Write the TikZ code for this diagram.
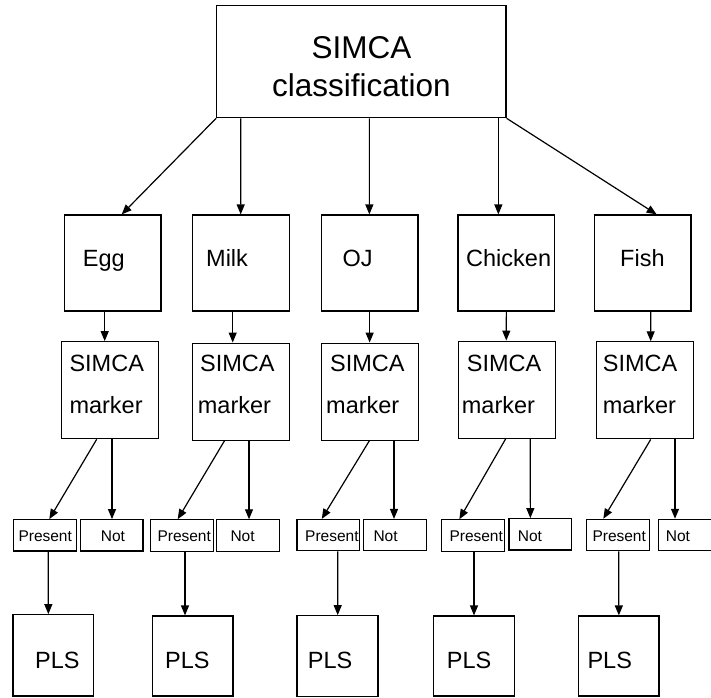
\documentclass[tikz,border=0pt]{standalone}
\usepackage{fontspec}
\setmainfont{Liberation Sans}
\usetikzlibrary{arrows.meta,calc}
\tikzset{
  bx/.style={draw, line width=1.2pt, inner sep=0pt, rectangle},
  topbox/.style={bx, minimum width=289.3pt, minimum height=112pt},
  foodbox/.style={bx, minimum width=96.8pt, minimum height=96pt},
  mkbox/.style={bx, minimum width=97pt, minimum height=97pt},
  smallbox/.style={bx, minimum width=62.6pt, minimum height=31.3pt},
  plsbox/.style={bx, minimum width=80.5pt, minimum height=80.5pt},
  arr/.style={line width=1.2pt, -{Triangle[length=10pt,width=8pt]}},
  big/.style={inner sep=0pt, font=\fontsize{31.5}{36}\selectfont},
  mid/.style={inner sep=0pt, anchor=base west, font=\fontsize{23.5}{28}\selectfont},
  sml/.style={inner sep=0pt, anchor=base west, font=\fontsize{15.5}{18}\selectfont},
}
\begin{document}
\begin{tikzpicture}[x=1pt,y=-1pt]
\useasboundingbox[fill=white] (0,0) rectangle (711,697);
% top
\node[topbox] (top) at (361.35,61.7) {};
\node[big, anchor=base] (tt1) at (361.5,58.3) {SIMCA};
\node[big, anchor=base] (tt2) at (361.5,96.7) {classification};
% food boxes
\node[foodbox] (e1) at (112.5,263) {};
\node[foodbox] (e2) at (241,263) {};
\node[foodbox] (e3) at (369.65,263) {};
\node[foodbox] (e4) at (506.35,263) {};
\node[foodbox] (e5) at (642.65,263) {};
\node[mid] (te1) at (82.7,266.7) {Egg};
\node[mid] (te2) at (206,266.7) {Milk};
\node[mid] (te3) at (342.3,266.7) {OJ};
\node[mid] (te4) at (466,266.7) {Chicken};
\node[mid] (te5) at (620,266.7) {Fish};
% marker boxes
\node[mkbox] (m1) at (110.2,390.2) {};
\node[mkbox] (m2) at (241,391.65) {};
\node[mkbox] (m3) at (369.65,391.65) {};
\node[mkbox, minimum width=97.4pt] (m4) at (507,389.65) {};
\node[mkbox] (m5) at (645,390.35) {};
\node[mid] (ta1) at (69.3,371.7) {SIMCA};
\node[mid] (tb1) at (69.3,413.3) {marker};
\node[mid] (ta2) at (200,371.7) {SIMCA};
\node[mid] (tb2) at (197.7,413.3) {marker};
\node[mid] (ta3) at (330,371.7) {SIMCA};
\node[mid] (tb3) at (326,413.3) {marker};
\node[mid] (ta4) at (466.7,371.7) {SIMCA};
\node[mid] (tb4) at (461.7,413.3) {marker};
\node[mid] (ta5) at (602.7,371.7) {SIMCA};
\node[mid] (tb5) at (602.7,413.3) {marker};
% present / not
\node[smallbox] (p1) at (45,535.35) {};
\node[smallbox] (p2) at (182,535.5) {};
\node[smallbox] (p3) at (328.35,535.15) {};
\node[smallbox] (p4) at (473.15,535.5) {};
\node[smallbox] (p5) at (618,535) {};
\node[smallbox] (n1) at (111.65,535.35) {};
\node[smallbox] (n2) at (248,535.5) {};
\node[smallbox] (n3) at (395,535.15) {};
\node[smallbox] (n4) at (540.35,534.35) {};
\node[smallbox] (n5) at (690,535) {};
\node[sml] (tp1) at (18.3,541.7) {Present};
\node[sml] (tp2) at (157.3,541.7) {Present};
\node[sml] (tp3) at (305,541.7) {Present};
\node[sml] (tp4) at (449.3,541.7) {Present};
\node[sml] (tp5) at (592.3,541.7) {Present};
\node[sml] (tn1) at (100.7,541.7) {Not};
\node[sml] (tn2) at (230.3,541.7) {Not};
\node[sml] (tn3) at (373.3,541.7) {Not};
\node[sml] (tn4) at (517.7,541.2) {Not};
\node[sml] (tn5) at (665.7,541.7) {Not};
% PLS
\node[plsbox, minimum width=80.7pt, minimum height=81.3pt] (L1) at (53.35,655.35) {};
\node[plsbox, minimum width=80.3pt, minimum height=80pt] (L2) at (192.85,656) {};
\node[plsbox, minimum width=81pt, minimum height=81pt] (L3) at (337.5,656.2) {};
\node[plsbox, minimum width=80.6pt, minimum height=80pt] (L4) at (474,656) {};
\node[plsbox, minimum width=80.3pt, minimum height=80pt] (L5) at (618.85,656) {};
\node[mid] (tl1) at (35,668.3) {PLS};
\node[mid] (tl2) at (165,668.3) {PLS};
\node[mid] (tl3) at (307.7,668.3) {PLS};
\node[mid] (tl4) at (446.7,668.3) {PLS};
\node[mid] (tl5) at (587.3,668.3) {PLS};
% arrows top -> food
\draw[arr] (top.south west) -- ([xshift=9.2pt]e1.north);
\draw[arr] ([xshift=-120.6pt]top.south) -- ([xshift=-0.3pt]e2.north);
\draw[arr] ([xshift=8pt]top.south) -- ([xshift=-0.3pt]e3.north);
\draw[arr] ([xshift=137pt]top.south) -- ([xshift=-8pt]e4.north);
\draw[arr] (top.south east) -- ([xshift=14pt]e5.north);
% food -> marker
\draw[arr] ([xshift=-7.8pt]e1.south) -- ([xshift=-5.5pt]m1.north);
\draw[arr] ([xshift=-8.3pt]e2.south) -- ([xshift=-8.3pt]m2.north);
\draw[arr] (e3.south) -- (m3.north);
\draw[arr] (e4.south) -- ([xshift=-0.7pt]m4.north);
\draw[arr] ([xshift=8pt]e5.south) -- ([xshift=5.7pt]m5.north);
% marker -> present
\draw[arr] ([xshift=-13.5pt]m1.south) -- ([xshift=4.3pt]p1.north);
\draw[arr] ([xshift=-16.5pt]m2.south) -- ([xshift=-4.3pt]p2.north);
\draw[arr] ([xshift=-0.3pt]m3.south) -- ([xshift=-6.6pt]p3.north);
\draw[arr] ([xshift=-1.3pt]m4.south) -- ([xshift=-13.8pt]p4.north);
\draw[arr] ([xshift=5.7pt]m5.south) -- ([xshift=-14.7pt]p5.north);
% marker -> not
\draw[arr] ([xshift=1.8pt]m1.south) -- ([xshift=0.35pt]n1.north);
\draw[arr] ([xshift=8pt]m2.south) -- ([xshift=1pt]n2.north);
\draw[arr] ([xshift=24.35pt]m3.south) -- ([xshift=-1pt]n3.north);
\draw[arr] ([xshift=23.3pt]m4.south) -- ([xshift=-10pt]n4.north);
\draw[arr] ([xshift=30pt]m5.south) -- ([xshift=-15pt]n5.north);
% present -> PLS
\draw[arr] ([xshift=3.3pt]p1.south) -- ([xshift=-5pt]L1.north);
\draw[arr] ([xshift=3pt]p2.south) -- ([xshift=-7.85pt]L2.north);
\draw[arr] ([xshift=9.35pt]p3.south) -- ([xshift=0.2pt]L3.north);
\draw[arr] ([xshift=0.85pt]p4.south) -- (L4.north);
\draw[arr] ([xshift=0.7pt]p5.south) -- (L5.north);
\end{tikzpicture}
\end{document}
